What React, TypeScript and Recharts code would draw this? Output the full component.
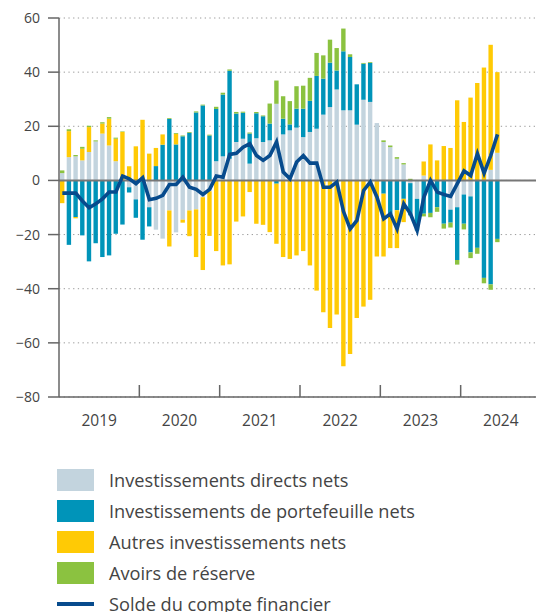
import React from "react";
import { ComposedChart, Bar, Line, XAxis, YAxis, CartesianGrid, ReferenceLine } from "recharts";

const years = [2019, 2020, 2021, 2022, 2023, 2024];
const yTicks = [-80, -60, -40, -20, 0, 20, 40, 60];

// Monthly values, Jan 2019 .. Jun 2024 (bn CHF)
const direct = [
  2.7, 8.6, 8.9, 7.4, 10.5, 14.4, 17.3, 12.9, 7.1, 0, -2.5, -7.0,
  0, -9.9, -18.2, -21.5, -11.1, -19.2, -14.5, -11.1, -10.7, -6.2, -4.0, 7.1,
  8.9, 8.0, 14.2, 15.4, 6.2, 15.6, 14.2, 14.8, 28.3, 17.0, 18.5, 19.5,
  16.0, 17.9, 19.1, 24.3, 27.1, 33.6, 25.9, 25.9, 20.6, 29.8, 29.0, 21.2,
  14.2, 12.3, 8.0, 5.9, -1.0, -6.8, 1.8, 0, 0, 0, -10.8, -9.9,
  -5.2, -5.9, 0, 0, 3.9, 10.2,
];
const portfolio = [
  0, -23.8, -13.5, -20.3, -29.9, -23.2, -28.3, -27.7, -19.7, -16.3, -2.0, -6.8,
  -21.9, -7.1, 5.3, 13.2, 22.7, 13.3, 16.3, 17.6, 25.1, 27.7, 16.6, 19.3,
  22.8, 32.5, 10.5, 9.6, 11.1, 9.2, 9.5, 6.2, -1.2, 5.8, 2.2, 7.0,
  10.5, 11.5, 19.5, 13.3, 16.4, 7.0, 21.8, 19.7, 14.9, 13.3, 14.4, 0,
  -4.9, -12.5, -11.0, -6.8, -11.9, -11.7, -12.3, -12.0, -9.9, -16.0, -4.8, -19.5,
  -10.8, -20.7, -24.9, -36.0, -38.4, -21.6,
];
const other = [
  -8.4, 9.6, -0.5, 4.3, 9.2, 0, 3.7, 9.9, 8.3, 17.9, 5.2, 12.6,
  22.4, 9.9, 6.7, 3.8, -13.3, 3.9, -1.1, -9.5, -17.6, -26.9, -16.5, -26.1,
  -31.4, -31.0, -15.2, -13.3, -4.3, -16.0, -16.4, -19.1, -22.2, -28.3, -29.0, -27.7,
  -26.1, -31.4, -40.7, -48.7, -54.5, -49.5, -68.6, -64.1, -50.8, -46.6, -44.1, -28.1,
  -23.2, -12.5, -14.0, -8.6, 0, 0, 5.2, 13.3, 7.4, 12.7, 12.0, 29.6,
  21.6, 30.6, 36.0, 41.7, 46.2, 29.8,
];
const reserves = [
  1.0, 0.7, 0.5, 0.7, 0.5, 0.4, 0.5, 0.6, 0.4, 0.2, 0, 0,
  0, 0, 0, 0, 0.3, 0.3, 0.3, 0.3, 0.4, 0.3, 0.3, 0.8,
  0.7, 0.5, 0.6, 0.4, 0.4, 0.5, 0.3, 7.4, 8.6, 8.3, 8.6, 8.3,
  8.5, 8.5, 8.5, 8.6, 8.5, 8.3, 8.4, 1.0, 0, 0.3, 0.3, 0,
  0.6, 0.6, 0.6, 0.5, 0.6, 0, -1.0, -1.6, -1.7, -1.8, -1.8, -1.7,
  -2.1, -2.1, -2.2, -2.0, -2.0, -1.2,
];
const balance = [
  -4.7, -4.7, -4.7, -7.6, -10.1, -8.6, -6.8, -4.3, -4.3, 1.6, 0.6, -1.2,
  1.0, -7.1, -6.6, -5.5, -1.5, -1.5, 1.2, -2.5, -3.3, -5.2, -3.3, 1.6,
  1.2, 9.6, 10.0, 12.3, 13.6, 9.2, 7.4, 9.2, 14.2, 3.1, 0.6, 6.8,
  9.2, 6.4, 6.4, -2.5, -2.5, -0.6, -11.5, -17.9, -14.8, -3.7, -0.6, -6.2,
  -14.2, -12.3, -17.9, -8.6, -12.3, -18.5, -6.2, 0, -4.3, -5.2, -5.9, -1.2,
  3.5, 1.8, 9.9, 2.7, 9.2, 17.0,
];

const COLORS = {
  direct: "#c3d4de",
  portfolio: "#0094b9",
  other: "#ffca05",
  reserves: "#8bc240",
  balance: "#074b8d",
};

const legendItems = [
  { label: "Investissements directs nets", color: COLORS.direct, kind: "box" },
  { label: "Investissements de portefeuille nets", color: COLORS.portfolio, kind: "box" },
  { label: "Autres investissements nets", color: COLORS.other, kind: "box" },
  { label: "Avoirs de réserve", color: COLORS.reserves, kind: "box" },
  { label: "Solde du compte financier", color: COLORS.balance, kind: "line" },
];

const months: string[] = [];
years.forEach((y) => {
  for (let m = 1; m <= 12; m++) months.push(`${y}-${String(m).padStart(2, "0")}`);
});

const data = months.map((m, i) => ({
  m,
  direct: i < direct.length ? direct[i] : null,
  portfolio: i < portfolio.length ? portfolio[i] : null,
  other: i < other.length ? other[i] : null,
  reserves: i < reserves.length ? reserves[i] : null,
  balance: i < balance.length ? balance[i] : null,
}));

const yearTicks = years.map((y) => `${y}-01`);
const FONT = "'Open Sans', 'Noto Sans', sans-serif";

const YearTick = (props: any) => {
  const { x, y, payload } = props;
  const half = payload && typeof payload.offset === "number" && payload.offset > 0 ? payload.offset : 3.347;
  const left = x - half;
  const center = left + 12 * half;
  const first = String(payload.value) === yearTicks[0];
  return (
    <g>
      {!first && <line x1={left} x2={left} y1={y} y2={y - 12} stroke="#666" strokeWidth={1.5} />}
      <text x={center} y={y + 29} textAnchor="middle" fill="#444" fontSize={15.5} fontFamily={FONT}>
        {String(payload.value).slice(0, 4)}
      </text>
    </g>
  );
};

const fmtY = (v: number) => (v < 0 ? `\u2212${Math.abs(v)}` : `${v}`);

export default function App() {
  return (
    <div style={{ position: "absolute", left: 0, top: 0, width: 536, height: 612, overflow: "hidden", background: "#fff" }}>
      <ComposedChart
        width={545}
        height={440}
        data={data}
        stackOffset="sign"
        margin={{ top: 18, right: 4, bottom: 3, left: 0 }}
        barCategoryGap={0}
      >
        <CartesianGrid vertical={false} stroke="#9a9a9a" strokeDasharray="1.3 3.4" />
        <XAxis
          dataKey="m"
          ticks={yearTicks}
          interval={0}
          tick={<YearTick />}
          tickLine={false}
          tickSize={0}
          tickMargin={0}
          height={40}
          axisLine={{ stroke: "#666", strokeWidth: 1.5 }}
        />
        <YAxis
          domain={[-80, 60]}
          ticks={yTicks}
          interval={0}
          width={59}
          tickSize={11}
          tickMargin={8}
          tickFormatter={fmtY}
          tick={{ fill: "#444", fontSize: 14, fontFamily: FONT }}
          tickLine={{ stroke: "#666", strokeWidth: 1.5 }}
          axisLine={{ stroke: "#666", strokeWidth: 1.5 }}
        />
        <Bar dataKey="direct" stackId="a" fill={COLORS.direct} barSize={4.4} isAnimationActive={false} />
        <Bar dataKey="portfolio" stackId="a" fill={COLORS.portfolio} barSize={4.4} isAnimationActive={false} />
        <Bar dataKey="other" stackId="a" fill={COLORS.other} barSize={4.4} isAnimationActive={false} />
        <Bar dataKey="reserves" stackId="a" fill={COLORS.reserves} barSize={4.4} isAnimationActive={false} />
        <ReferenceLine y={0} stroke="#777" strokeWidth={2} />
        <Line
          dataKey="balance"
          type="linear"
          stroke={COLORS.balance}
          strokeWidth={3.6}
          dot={false}
          activeDot={false}
          strokeLinejoin="miter"
          isAnimationActive={false}
        />
      </ComposedChart>
      {legendItems.map((it, i) => (
        <div
          key={it.label}
          style={{
            position: "absolute",
            left: 57,
            top: 469 + i * 31,
            height: 22,
            display: "flex",
            alignItems: "center",
            fontFamily: FONT,
            fontSize: 18.2,
            color: "#444",
            whiteSpace: "nowrap",
          }}
        >
          <div style={{ width: 37, height: it.kind === "box" ? 22 : 4, background: it.color }} />
          <div style={{ marginLeft: 15, lineHeight: "22px" }}>{it.label}</div>
        </div>
      ))}
    </div>
  );
}
